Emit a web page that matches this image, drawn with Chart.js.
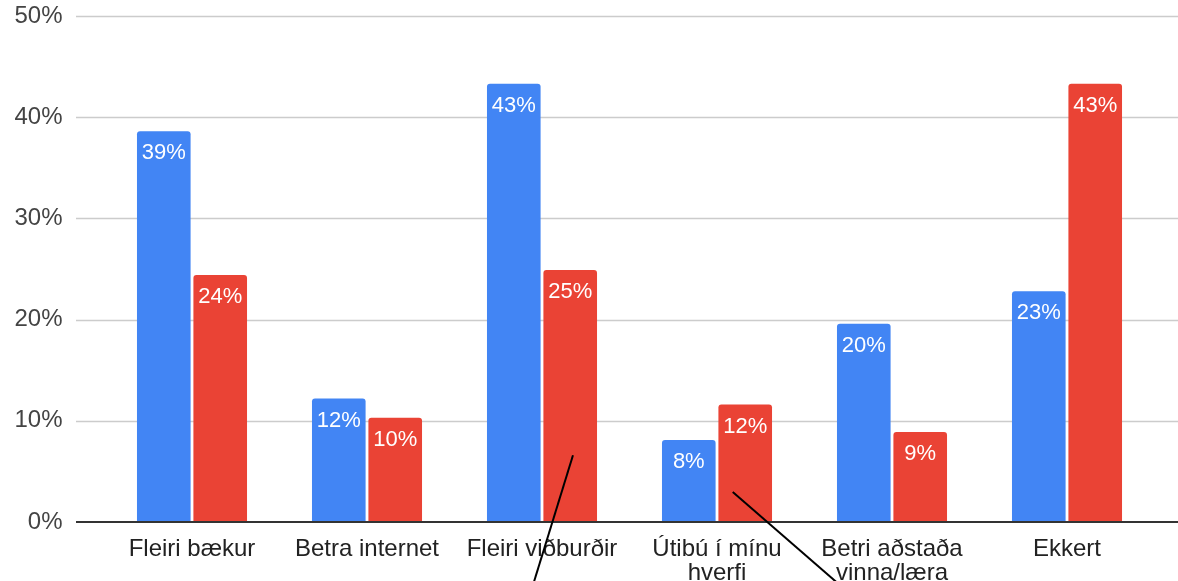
<!DOCTYPE html>
<html>
<head>
<meta charset="utf-8">
<script src="https://cdn.jsdelivr.net/npm/chart.js@4/dist/chart.umd.min.js"></script>
<style>
  html, body { margin: 0; padding: 0; background: #fff; }
  #wrap { width: 1178px; height: 581px; }
</style>
</head>
<body>
<div id="wrap"><canvas id="chart" width="1178" height="581"></canvas></div>
<script>
// Flokkar og gildi (%)
const categories = [
    "Fleiri bækur",
    "Betra internet",
    "Fleiri viðburðir",
    ["Útibú í mínu", "hverfi"],
    ["Betri aðstaða", "vinna/læra"],
    "Ekkert"
];
const blueValues = [38.6, 12.2, 43.3, 8.1, 19.6, 22.8];
const redValues = [24.4, 10.3, 24.9, 11.6, 8.9, 43.3];
const yTicks = [0, 10, 20, 30, 40, 50];

// Handteiknaðar línur ofan á myndinni: [flokkur, gildi] -> [flokkur, gildi]
const pointerLines = [
    [[2.177, 6.6], [1.949, -6.2]],
    [[3.09, 2.96], [3.70, -6.2]]
];

const FONT = "'Liberation Sans', Arial, sans-serif";

// Gridlínur og x-ás sem ná út fyrir teiknisvæðið
const gridPlugin = {
    id: "gridPlugin",
    beforeDatasetsDraw(chart) {
        const ctx = chart.ctx;
        const y = chart.scales.y;
        ctx.save();
        yTicks.forEach(v => {
            if (v === 0) return;
            const py = Math.round(y.getPixelForValue(v)) + 0.5;
            ctx.strokeStyle = "#cccccc";
            ctx.lineWidth = 1.5;
            ctx.beginPath();
            ctx.moveTo(76, py);
            ctx.lineTo(chart.width, py);
            ctx.stroke();
        });
        ctx.restore();
    },
    afterDatasetsDraw(chart) {
        const ctx = chart.ctx;
        const y = chart.scales.y;
        const x = chart.scales.x;
        ctx.save();
        // gildismerki inni í súlum
        ctx.font = "22px " + FONT;
        ctx.fillStyle = "#ffffff";
        ctx.textAlign = "center";
        ctx.textBaseline = "middle";
        chart.data.datasets.forEach((ds, di) => {
            chart.getDatasetMeta(di).data.forEach((bar, i) => {
                ctx.fillText(Math.round(ds.data[i]) + "%", bar.x, bar.y + 22);
            });
        });
        // x-ás
        const py = y.getPixelForValue(0);
        ctx.strokeStyle = "#333333";
        ctx.lineWidth = 2;
        ctx.beginPath();
        ctx.moveTo(76, py);
        ctx.lineTo(chart.width, py);
        ctx.stroke();
        // línur
        ctx.strokeStyle = "#000000";
        ctx.lineWidth = 2;
        pointerLines.forEach(([a, b]) => {
            ctx.beginPath();
            ctx.moveTo(x.getPixelForValue(a[0]), y.getPixelForValue(a[1]));
            ctx.lineTo(x.getPixelForValue(b[0]), y.getPixelForValue(b[1]));
            ctx.stroke();
        });
        ctx.restore();
    }
};

new Chart(document.getElementById("chart"), {
    type: "bar",
    data: {
        labels: categories,
        datasets: [
            {
                data: blueValues,
                backgroundColor: "#4285f4",
                borderRadius: { topLeft: 3, topRight: 3 },
                borderSkipped: "bottom"
            },
            {
                data: redValues,
                backgroundColor: "#ea4335",
                borderRadius: { topLeft: 3, topRight: 3 },
                borderSkipped: "bottom"
            }
        ]
    },
    options: {
        responsive: false,
        animation: false,
        barPercentage: 0.95,
        categoryPercentage: 0.645,
        layout: { autoPadding: false, padding: { top: 16, right: 23.5, bottom: 0, left: 0 } },
        plugins: {
            legend: { display: false },
            tooltip: { enabled: false }
        },
        scales: {
            x: {
                grid: { display: false, drawTicks: false },
                border: { display: false },
                afterFit(scale) { scale.height = 59; },
                ticks: {
                    color: "#222222",
                    font: { family: FONT, size: 24, lineHeight: 1.0 },
                    padding: 15,
                    maxRotation: 0,
                    autoSkip: false
                }
            },
            y: {
                min: 0,
                max: 50,
                grid: { display: false, drawTicks: false },
                border: { display: false },
                afterFit(scale) {
                    scale.width = 104.5;
                    scale.paddingTop = 0;
                    scale.paddingBottom = 0;
                },
                afterBuildTicks(scale) {
                    scale.ticks = yTicks.map(v => ({ value: v }));
                },
                ticks: {
                    color: "#444444",
                    font: { family: FONT, size: 24 },
                    padding: 42,
                    callback: v => v + "%"
                }
            }
        }
    },
    plugins: [gridPlugin]
});
</script>
</body>
</html>
